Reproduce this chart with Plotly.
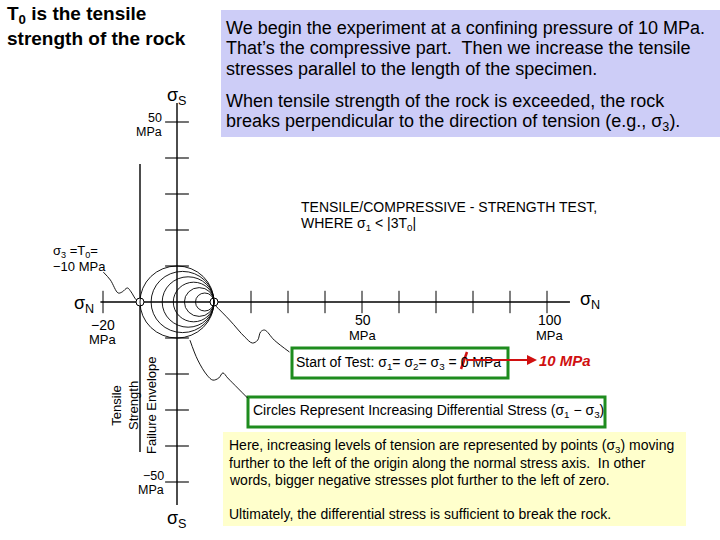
import plotly.graph_objects as go

# ---------------- data (MPa) ----------------
sigma1 = 10                                  # constant sigma1 for all circles
sigma3_steps = [-10, -7, -4, -1, 2, 5]       # sigma3 of each Mohr circle
tensile_strength = -10                       # T0 -> failure envelope position
shear_ticks = [-50, -40, -30, -20, -10, 10, 20, 30, 40, 50]
normal_ticks = [-20, 20, 30, 40, 50, 60, 70, 80, 90, 100]
normal_axis_ext = [-20.7, 106.2]
shear_axis_ext = [-56.4, 55.3]
envelope_ext = [-41.7, 38.3]
point_x = [-10, 10]
point_y = [0, 0]
# leader (callout) squiggles, MPa coordinates
lead1_x = [-19.9, -18.0, -15.9, -14.8, -13.4, -12.4, -11.0, -9.7]
lead1_y = [8.3, 6.1, 2.5, 2.8, 3.9, 2.8, 0.6, 0.0]
lead2_x = [9.7, 14.2, 18.3, 20.4, 21.8, 22.6, 23.7, 26.3, 30.4]
lead2_y = [-0.3, -5.0, -9.7, -11.4, -10.6, -8.3, -7.8, -10.6, -13.9]
lead3_x = [3.5, 5.6, 8.1, 9.7, 11.3, 12.4, 13.7, 16.4, 19.1]
lead3_y = [-10.6, -16.1, -20.3, -21.7, -21.1, -19.7, -21.1, -23.9, -26.7]

title_lines = ["<b>T<sub>0</sub> is the tensile</b>", "<b>strength of the rock</b>"]
intro_lines = ["We begin the experiment at a confining pressure of 10 MPa.",
               "That\u2019s the compressive part.  Then we increase the tensile",
               "stresses parallel to the length of the specimen."]
break_lines = ["When tensile strength of the rock is exceeded, the rock",
               "breaks perpendicular to the direction of tension (e.g., \u03c3<sub>3</sub>)."]
caption_lines = ["TENSILE/COMPRESSIVE - STRENGTH TEST,",
                 "WHERE \u03c3<sub>1</sub> &lt; |3T<sub>0</sub>|"]
note_lines = ["Here, increasing levels of tension are represented by points (\u03c3<sub>3</sub>) moving",
              "further to the left of the origin along the normal stress axis.  In other",
              "words, bigger negative stresses plot further to the left of zero."]
final_line = "Ultimately, the differential stress is sufficient to break the rock."

# ---------------- layout constants ----------------
W, H = 720, 540
XS, YS = 3.70, 3.60        # px per MPa
X0, Y0 = 177, 302          # pixel position of origin
xr = [-X0 / XS, (W - X0) / XS]
yr = [-(H - Y0) / YS, Y0 / YS]
FONT = "Arial, Liberation Sans, sans-serif"

fig = go.Figure()

# axes
fig.add_trace(go.Scatter(x=normal_axis_ext, y=[0, 0], mode="lines",
                         line=dict(color="black", width=1.4), hoverinfo="skip"))
fig.add_trace(go.Scatter(x=[0, 0], y=shear_axis_ext, mode="lines",
                         line=dict(color="black", width=1.4), hoverinfo="skip"))
# failure envelope
fig.add_trace(go.Scatter(x=[tensile_strength] * 2, y=envelope_ext, mode="lines",
                         line=dict(color="black", width=1.4), hoverinfo="skip"))
# ticks
fig.add_trace(go.Scatter(x=normal_ticks, y=[0] * len(normal_ticks), mode="markers",
                         marker=dict(symbol="line-ns-open", size=16, color="black",
                                     line=dict(color="black", width=1.0)),
                         hoverinfo="skip"))
fig.add_trace(go.Scatter(x=[0] * len(shear_ticks), y=shear_ticks, mode="markers",
                         marker=dict(symbol="line-ew-open", size=17, color="black",
                                     line=dict(color="black", width=1.1)),
                         hoverinfo="skip"))
# leaders
for lx, ly in [(lead1_x, lead1_y), (lead2_x, lead2_y), (lead3_x, lead3_y)]:
    fig.add_trace(go.Scatter(x=lx, y=ly, mode="lines",
                             line=dict(color="black", width=0.9, shape="spline"),
                             hoverinfo="skip"))
# Mohr circles
for s3 in sigma3_steps:
    r = (sigma1 - s3) / 2
    fig.add_shape(type="circle", xref="x", yref="y", x0=s3, x1=sigma1,
                  y0=-r, y1=r, line=dict(color="black", width=0.9))
# points
fig.add_trace(go.Scatter(x=point_x, y=point_y, mode="markers",
                         marker=dict(symbol="circle", size=8, color="white",
                                     line=dict(color="black", width=1)),
                         hoverinfo="skip"))


def px(x):
    return x / W


def py(y):
    return 1 - y / H


def box(x0, y0, x1, y1, fill=None, line=None, lw=0):
    fig.add_shape(type="rect", xref="paper", yref="paper",
                  x0=px(x0), x1=px(x1), y0=py(y1), y1=py(y0),
                  fillcolor=fill if fill else "rgba(0,0,0,0)",
                  line=dict(color=line if line else "rgba(0,0,0,0)", width=lw),
                  layer="below")


def ann(text, x, y, size=13, xa="left", ya="middle", color="black", align="left", **kw):
    fig.add_annotation(text=text, x=px(x), y=py(y), xref="paper", yref="paper",
                       xanchor=xa, yanchor=ya, showarrow=False, align=align,
                       font=dict(family=FONT, size=size, color=color), **kw)


def lines(texts, x, y0, dy, size):
    for i, t in enumerate(texts):
        ann(t, x, y0 + i * dy, size=size)


# boxes
box(221, 10, 720, 137, fill="#CDCDF7")
box(223, 432, 686, 526, fill="#FFFFCC")
box(292, 348, 508, 378, line="#1E8C1E", lw=3)
box(248, 397, 605, 427, line="#1E8C1E", lw=3)

# title
lines(title_lines, 5, 15, 23.5, 19)

# lavender text
lines(intro_lines, 224, 28, 20.5, 18)
lines(break_lines, 224, 101, 21.5, 18)

# diagram caption
lines(caption_lines, 299, 207, 17, 14)

# axis labels
ann("\u03c3<sub>S</sub>", 177, 96, size=18, xa="center")
ann("\u03c3<sub>S</sub>", 177, 519, size=18, xa="center")
ann("\u03c3<sub>N</sub>", 96, 304, size=18, xa="right")
ann("\u03c3<sub>N</sub>", 578, 300, size=18, xa="left")
ann("50", 164, 118, size=12.5, xa="right")
ann("MPa", 164, 132, size=12.5, xa="right")
ann("\u221250", 166, 476, size=12.5, xa="right")
ann("MPa", 166, 490, size=12.5, xa="right")
ann("\u221220", 103, 325, size=14, xa="center")
ann("MPa", 103, 339, size=13, xa="center")
ann("50", 363, 320, size=14, xa="center")
ann("MPa", 363, 335, size=13, xa="center")
ann("100", 550, 320, size=14, xa="center")
ann("MPa", 550, 335, size=13, xa="center")
ann("\u03c3<sub>3</sub> =T<sub>0</sub>=", 51, 251, size=13)
ann("\u221210 MPa", 51, 266, size=13)
ann("Tensile<br>Strength", 125, 406, size=13, xa="center", align="center", textangle=-90)
ann("Failure Envelope", 151, 405, size=13, xa="center", textangle=-90)

# start of test box
ann("Start of Test: \u03c3<sub>1</sub>= \u03c3<sub>2</sub>= \u03c3<sub>3</sub> = 0 MPa",
    294, 363, size=14)
fig.add_shape(type="line", xref="paper", yref="paper",
              x0=px(461), y0=py(369), x1=px(467), y1=py(352),
              line=dict(color="#D01010", width=2.5))
fig.add_annotation(x=px(537), y=py(360), xref="paper", yref="paper", text="",
                   showarrow=True, ax=-72, ay=0, axref="pixel", ayref="pixel",
                   arrowhead=2, arrowsize=1, arrowwidth=2, arrowcolor="#D01010",
                   standoff=0, startstandoff=0)
ann("<b><i>10 MPa</i></b>", 537, 360, size=15, color="#D01010")

# circles box
ann("Circles Represent Increasing Differential Stress (\u03c3<sub>1</sub> \u2212 \u03c3<sub>3</sub>)",
    251, 411, size=14)

# yellow text
lines(note_lines, 227, 446, 17, 14)
ann(final_line, 227, 514, size=14)

fig.update_layout(
    width=W, height=H, margin=dict(l=0, r=0, t=0, b=0),
    paper_bgcolor="white", plot_bgcolor="white", showlegend=False,
    xaxis=dict(range=xr, visible=False, fixedrange=True),
    yaxis=dict(range=yr, visible=False, fixedrange=True),
)
fig.write_html("out.html", config={"displayModeBar": False},
               post_script="document.body.style.margin='0';document.body.style.overflow='hidden';")
